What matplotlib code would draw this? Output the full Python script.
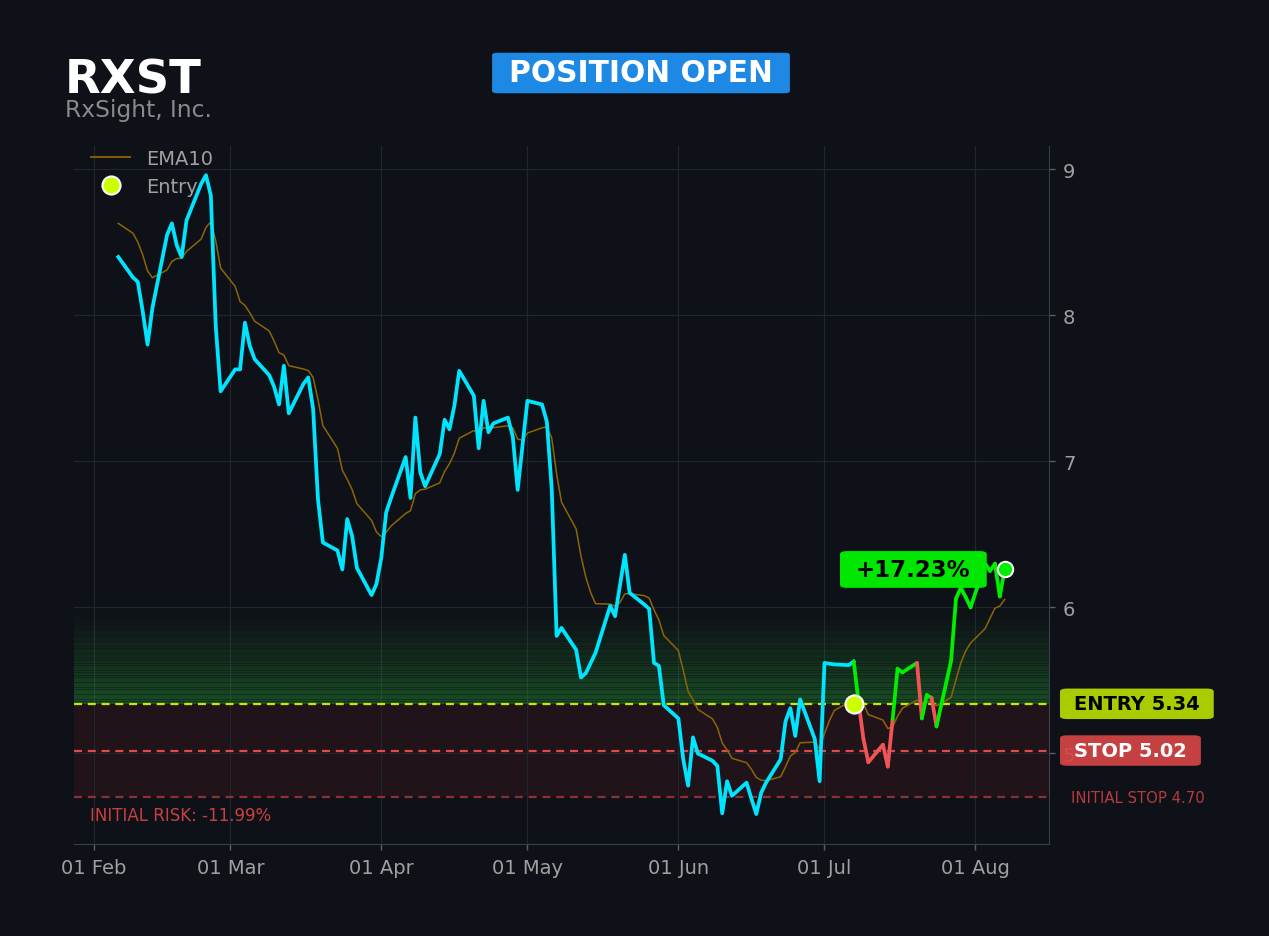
import numpy as np
import pandas as pd
import matplotlib
matplotlib.use("Agg")
import matplotlib.pyplot as plt
import matplotlib.dates as mdates
from matplotlib.lines import Line2D

# ---------------- data ----------------
ticker = "RXST"
company = "RxSight, Inc."
status = "POSITION OPEN"

closes = [
    # Feb
    8.40, 8.26, 8.23, 8.03, 7.80, 8.05, 8.55, 8.63, 8.48, 8.40, 8.65, 8.90, 8.96, 8.82, 7.93, 7.48,
    # Mar
    7.63, 7.63, 7.95, 7.79, 7.70, 7.59, 7.51, 7.39, 7.655, 7.33, 7.53, 7.575, 7.36, 6.74, 6.445,
    6.39, 6.26, 6.605, 6.49, 6.27, 6.085,
    # Apr
    6.16, 6.34, 6.65, 6.75, 7.03, 6.75, 7.30, 6.925, 6.83, 7.05, 7.285, 7.22, 7.38, 7.62, 7.45,
    7.09, 7.415, 7.20, 7.26, 7.30, 7.17, 6.805,
    # May
    7.11, 7.415, 7.39, 7.27, 6.81, 5.805, 5.86, 5.71, 5.52, 5.55, 5.62, 5.69, 6.01, 5.94, 6.15,
    6.36, 6.10, 6.02, 5.99, 5.62, 5.60, 5.33,
    # Jun
    5.24, 4.96, 4.78, 5.11, 5.00, 4.95, 4.915, 4.59, 4.81, 4.71, 4.80, 4.69, 4.585, 4.73, 4.80,
    4.96, 5.22, 5.31, 5.12, 5.37, 5.10,
    # Jul
    4.81, 5.62, 5.615, 5.61, 5.605, 5.63, 5.35, 5.10, 4.94, 5.06, 4.91, 5.235, 5.58, 5.555, 5.62,
    5.24, 5.40, 5.38, 5.185, 5.635, 6.06, 6.135, 6.07,
    # Aug
    6.00, 6.30, 6.25, 6.30, 6.075, 6.26,
]
dates = pd.bdate_range("2025-02-07", "2025-08-08")

ema_span = 10
ema_seed = 8.63          # EMA10 value on the first visible session

entry_date = pd.Timestamp("2025-07-08")
entry_price = 5.34
stop_price = 5.02
initial_stop = 4.70
gradient_top = 6.0

# ---------------- derived ----------------
closes = np.array(closes, dtype=float)
n = min(len(closes), len(dates))
closes = closes[:n]
dates = dates[:n]
plot_x = dates - pd.Timedelta(days=1)   # sessions stamped at prior-day close

alpha_e = 2.0 / (ema_span + 1)
ema = np.empty(n)
ema[0] = ema_seed
for i in range(1, n):
    ema[i] = ema[i - 1] + alpha_e * (closes[i] - ema[i - 1])

entry_idx = int(np.where(dates == entry_date)[0][0])
pnl_pct = (closes[-1] / entry_price - 1) * 100
risk_pct = (initial_stop / entry_price - 1) * 100

# ---------------- style ----------------
BG = "#0e1117"
GRID = "#22262e"
TXT = "#a0a0a0"
CYAN = "#00e5ff"
GREEN = "#00ee00"
RED = "#f05454"
EMA_C = "#8b6508"
ENTRY_C = "#c8e600"
STOP_C = "#e04a4a"
ISTOP_C = "#8c3035"

fig = plt.figure(figsize=(12.69, 9.37), dpi=100, facecolor=BG)
ax = fig.add_axes([0.05831, 0.09819, 0.76832, 0.74493])
ax.set_facecolor(BG)

# zones
ax.axhspan(initial_stop, entry_price, color="#ff4040", alpha=0.08, lw=0, zorder=0.5)
nb = 40
edges = np.linspace(entry_price, gradient_top, nb + 1)
step = edges[1] - edges[0]
for k in range(nb):
    a = 0.36 * (1 - k / nb) ** 1.2
    ax.axhspan(edges[k], edges[k] + 0.72 * step, color="#2bb53c", alpha=a, lw=0, zorder=0.6)
    ax.axhspan(edges[k] + 0.72 * step, edges[k + 1], color="#2bb53c", alpha=a * 0.55, lw=0,
               zorder=0.6)

ax.grid(True, color=GRID, lw=0.8)
ax.set_axisbelow(True)

# reference lines
ax.axhline(entry_price, color=ENTRY_C, lw=1.6, ls=(0, (3.6, 2.6)), zorder=2)
ax.axhline(stop_price, color=STOP_C, lw=1.6, ls=(0, (3.6, 2.6)), zorder=2)
ax.axhline(initial_stop, color=ISTOP_C, lw=1.6, ls=(0, (3.6, 2.6)), zorder=2)

# EMA
ax.plot(plot_x, ema, color=EMA_C, lw=1.1, zorder=3)

# price before entry
ax.plot(plot_x[:entry_idx + 1], closes[:entry_idx + 1], color=CYAN, lw=2.7, zorder=4)
# price after entry, coloured against entry
for i in range(entry_idx + 1, n):
    c = GREEN if closes[i] >= entry_price else RED
    ax.plot(plot_x[i - 1:i + 1], closes[i - 1:i + 1], color=c, lw=2.7, zorder=4,
            solid_capstyle="round")

# markers
ax.plot([plot_x[entry_idx]], [entry_price], "o", ms=13, mfc="#ccff00", mec="white",
        mew=1.5, zorder=6)
ax.plot([plot_x[-1]], [closes[-1]], "o", ms=11, mfc=GREEN, mec="white", mew=1.5, zorder=6)

# pnl badge
ax.annotate(f"{pnl_pct:+.2f}%", xy=(plot_x[-1], closes[-1]), xytext=(-34, 0),
            textcoords="offset pixels", ha="right", va="center", fontsize=16.5,
            fontweight="bold", color="black", zorder=7,
            bbox=dict(boxstyle="round,pad=0.7,rounding_size=0.3", fc="#00e600", ec="none",
                      mutation_aspect=0.43))

# right side labels
ax.annotate(f"ENTRY {entry_price:.2f}", xy=(1, entry_price),
            xycoords=("axes fraction", "data"), xytext=(25, 0), textcoords="offset pixels",
            ha="left", va="center", fontsize=14, fontweight="bold", color="black",
            annotation_clip=False, zorder=7,
            bbox=dict(boxstyle="round,pad=0.72,rounding_size=0.35", fc="#a8cc00", ec="none",
                      mutation_aspect=0.41))
ax.annotate(f"STOP {stop_price:.2f}", xy=(1, stop_price),
            xycoords=("axes fraction", "data"), xytext=(25, 0), textcoords="offset pixels",
            ha="left", va="center", fontsize=14, fontweight="bold", color="white",
            annotation_clip=False, zorder=7,
            bbox=dict(boxstyle="round,pad=0.72,rounding_size=0.35", fc="#d64545", ec="none",
                      alpha=0.92, mutation_aspect=0.41))
ax.annotate(f"INITIAL STOP {initial_stop:.2f}", xy=(1, initial_stop),
            xycoords=("axes fraction", "data"), xytext=(22, 0), textcoords="offset pixels",
            ha="left", va="center", fontsize=10.7, color="#b83a3e", annotation_clip=False)

ax.text(0.0164, 0.0415, f"INITIAL RISK: {risk_pct:.2f}%", transform=ax.transAxes,
        ha="left", va="center", fontsize=12, color="#c9403f")

# axes formatting
ax.set_ylim(4.38, 9.16)
ax.set_yticks([5, 6, 7, 8, 9])
ax.yaxis.tick_right()
ax.xaxis.set_major_locator(mdates.MonthLocator())
ax.xaxis.set_major_formatter(mdates.DateFormatter("%d %b"))
ax.tick_params(axis="both", colors="#5a5f66", labelcolor=TXT, labelsize=14, length=4,
               width=1)
ax.tick_params(axis="x", pad=6)
ax.tick_params(axis="y", pad=6)
for s in ["top", "left"]:
    ax.spines[s].set_visible(False)
for s in ["right", "bottom"]:
    ax.spines[s].set_color("#3a3f47")

# legend
handles = [
    Line2D([], [], color=EMA_C, lw=1.3, label="EMA10"),
    Line2D([], [], ls="none", marker="o", ms=13, mfc="#ccff00", mec="white", mew=1.5,
           label="Entry"),
]
leg = ax.legend(handles=handles, loc="upper left", bbox_to_anchor=(0.0, 1.021),
                frameon=False, fontsize=14, labelspacing=0.45)
for t in leg.get_texts():
    t.set_color(TXT)

# header
fig.text(65 / 1269, 1 - 94 / 937, ticker, fontsize=33.5, fontweight="bold", color="white",
         ha="left", va="baseline")
fig.text(65 / 1269, 1 - 117 / 937, company, fontsize=16.8, color="#8a8a8a", ha="left",
         va="baseline")
fig.text(641 / 1269, 1 - 74 / 937, status, fontsize=21.4, fontweight="bold", color="white",
         ha="center", va="center",
         bbox=dict(boxstyle="round,pad=0.57,rounding_size=0.2", fc="#1e88e5", ec="none",
                   mutation_aspect=0.34))

fig.savefig("out.png", dpi=100, facecolor=BG)
